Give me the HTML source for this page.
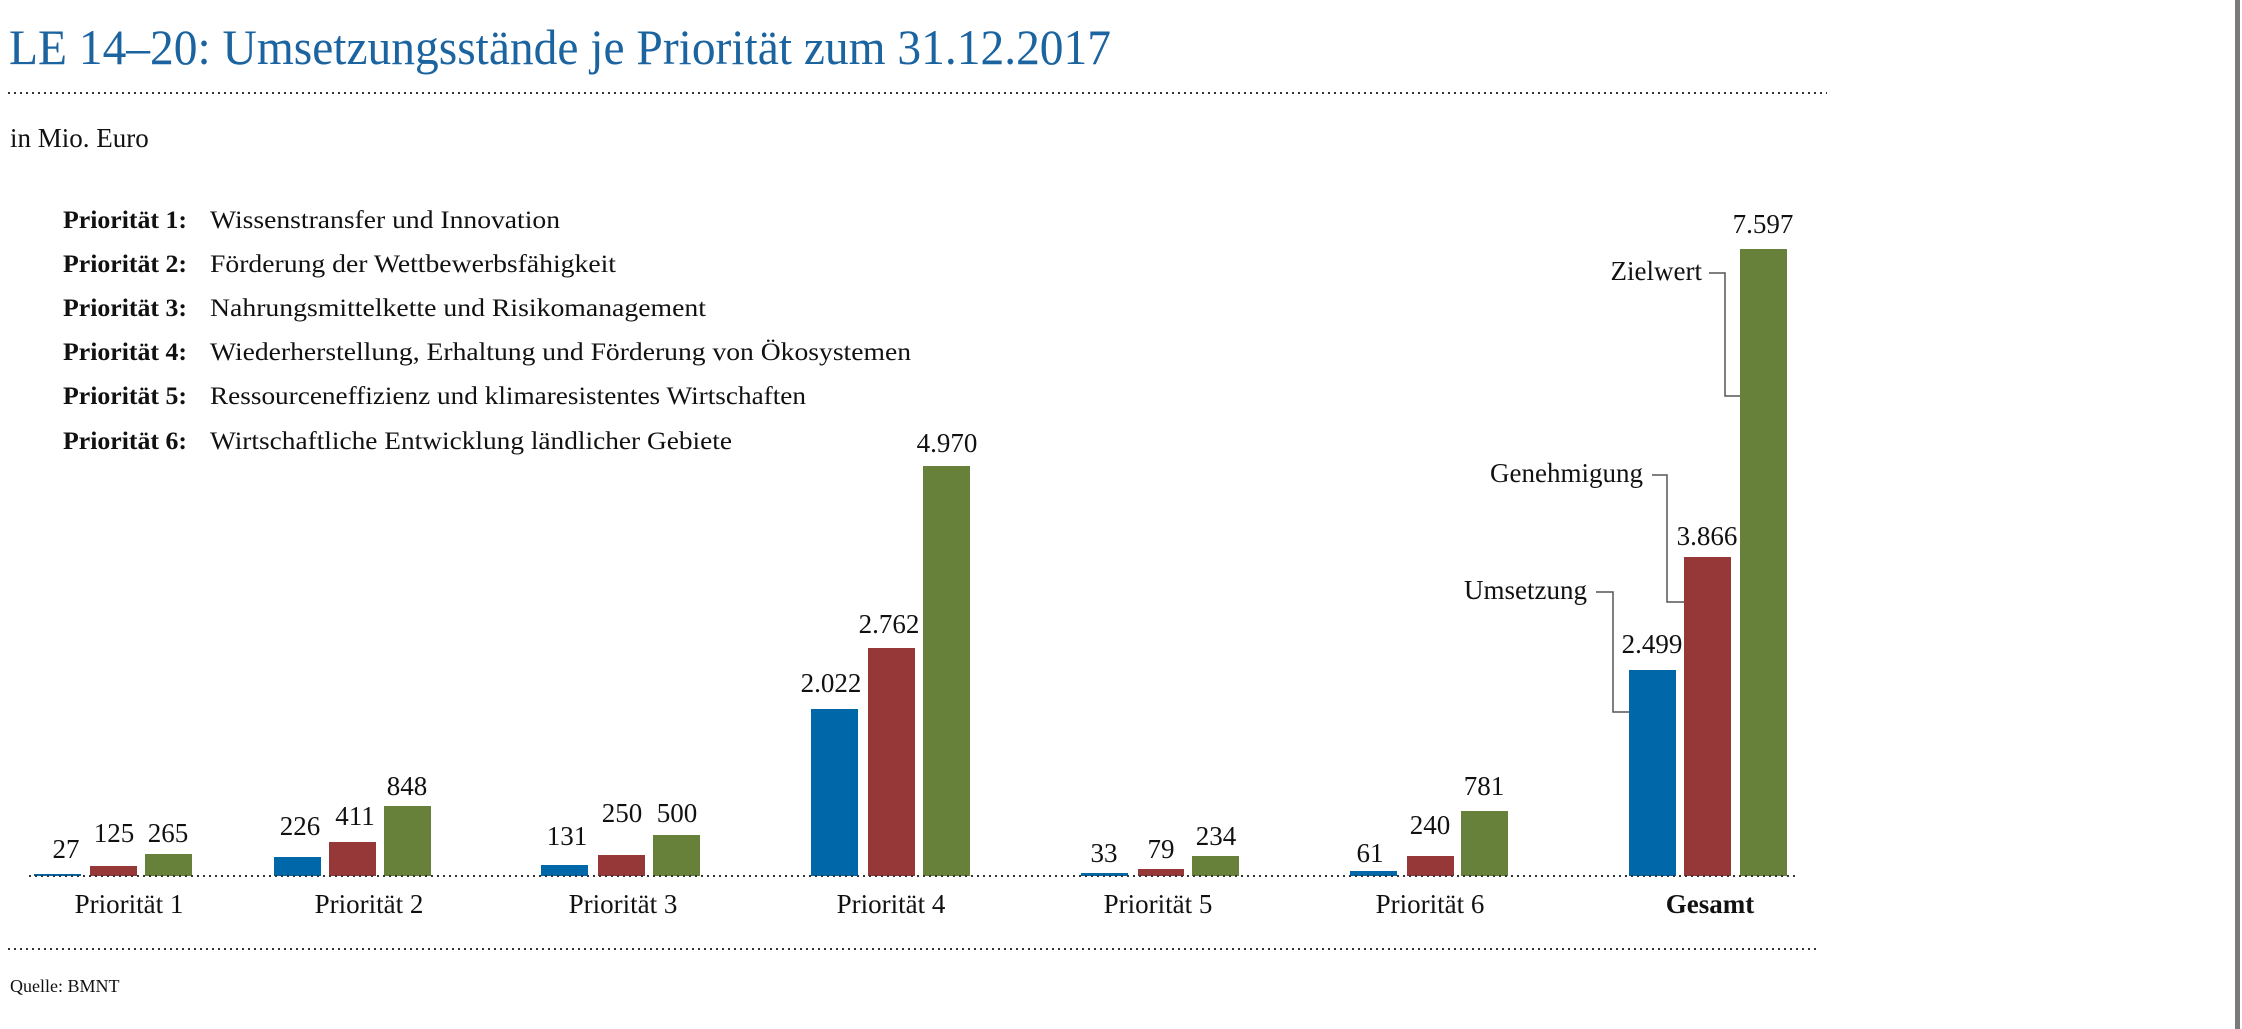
<!DOCTYPE html>
<html><head><meta charset="utf-8"><style>html,body{margin:0;padding:0;background:#fff;}svg{display:block}</style></head>
<body>
<svg width="2242" height="1029" viewBox="0 0 2242 1029" xmlns="http://www.w3.org/2000/svg" font-family="'Liberation Serif', serif">
<rect width="2242" height="1029" fill="#fff"/>
<rect x="2235" y="0" width="5" height="1029" fill="#7a7a7a"/>
<text x="9" y="64" font-size="50" fill="#1b64a0" textLength="1102" lengthAdjust="spacingAndGlyphs">LE 14–20: Umsetzungsstände je Priorität zum 31.12.2017</text>
<line x1="8" y1="93" x2="1827" y2="93" stroke="#333" stroke-width="2" stroke-dasharray="2 4"/>
<text x="10" y="147" font-size="27" fill="#111">in Mio. Euro</text>
<g font-size="25" fill="#111">
<text x="63" y="228" font-weight="bold" textLength="124" lengthAdjust="spacingAndGlyphs">Priorität 1:</text>
<text x="63" y="272" font-weight="bold" textLength="124" lengthAdjust="spacingAndGlyphs">Priorität 2:</text>
<text x="63" y="316" font-weight="bold" textLength="124" lengthAdjust="spacingAndGlyphs">Priorität 3:</text>
<text x="63" y="360" font-weight="bold" textLength="124" lengthAdjust="spacingAndGlyphs">Priorität 4:</text>
<text x="63" y="404" font-weight="bold" textLength="124" lengthAdjust="spacingAndGlyphs">Priorität 5:</text>
<text x="63" y="449" font-weight="bold" textLength="124" lengthAdjust="spacingAndGlyphs">Priorität 6:</text>
<text x="210" y="228" textLength="350" lengthAdjust="spacingAndGlyphs">Wissenstransfer und Innovation</text>
<text x="210" y="272" textLength="406" lengthAdjust="spacingAndGlyphs">Förderung der Wettbewerbsfähigkeit</text>
<text x="210" y="316" textLength="496" lengthAdjust="spacingAndGlyphs">Nahrungsmittelkette und Risikomanagement</text>
<text x="210" y="360" textLength="701" lengthAdjust="spacingAndGlyphs">Wiederherstellung, Erhaltung und Förderung von Ökosystemen</text>
<text x="210" y="404" textLength="596" lengthAdjust="spacingAndGlyphs">Ressourceneffizienz und klimaresistentes Wirtschaften</text>
<text x="210" y="449" textLength="522" lengthAdjust="spacingAndGlyphs">Wirtschaftliche Entwicklung ländlicher Gebiete</text>
</g>
<!-- bars: axis y=876, scale 0.0825 -->
<g>
<rect x="34" y="874" width="47" height="2" fill="#0067a9"/>
<rect x="90" y="866" width="47" height="10" fill="#963838"/>
<rect x="145" y="854" width="47" height="22" fill="#67803a"/>
<rect x="274" y="857" width="47" height="19" fill="#0067a9"/>
<rect x="329" y="842" width="47" height="34" fill="#963838"/>
<rect x="384" y="806" width="47" height="70" fill="#67803a"/>
<rect x="541" y="865" width="47" height="11" fill="#0067a9"/>
<rect x="598" y="855" width="47" height="21" fill="#963838"/>
<rect x="653" y="835" width="47" height="41" fill="#67803a"/>
<rect x="811" y="709" width="47" height="167" fill="#0067a9"/>
<rect x="868" y="648" width="47" height="228" fill="#963838"/>
<rect x="923" y="466" width="47" height="410" fill="#67803a"/>
<rect x="1081" y="873" width="47" height="3" fill="#0067a9"/>
<rect x="1138" y="869" width="46" height="7" fill="#963838"/>
<rect x="1192" y="856" width="47" height="20" fill="#67803a"/>
<rect x="1350" y="871" width="47" height="5" fill="#0067a9"/>
<rect x="1407" y="856" width="47" height="20" fill="#963838"/>
<rect x="1461" y="811" width="47" height="65" fill="#67803a"/>
<rect x="1629" y="670" width="47" height="206" fill="#0067a9"/>
<rect x="1684" y="557" width="47" height="319" fill="#963838"/>
<rect x="1740" y="249" width="47" height="627" fill="#67803a"/>
</g>
<line x1="29" y1="876" x2="1799" y2="876" stroke="#333" stroke-width="2" stroke-dasharray="2 4"/>
<g font-size="27" fill="#111" text-anchor="middle">
<text x="66" y="858">27</text><text x="114" y="842">125</text><text x="168" y="842">265</text>
<text x="300" y="835">226</text><text x="355" y="825">411</text><text x="407" y="795">848</text>
<text x="567" y="845">131</text><text x="622" y="822">250</text><text x="677" y="822">500</text>
<text x="831" y="692">2.022</text><text x="889" y="633">2.762</text><text x="947" y="452">4.970</text>
<text x="1104" y="862">33</text><text x="1161" y="858">79</text><text x="1216" y="845">234</text>
<text x="1370" y="862">61</text><text x="1430" y="834">240</text><text x="1484" y="795">781</text>
<text x="1652" y="653">2.499</text><text x="1707" y="545">3.866</text><text x="1763" y="233">7.597</text>
<text x="129" y="913">Priorität 1</text><text x="369" y="913">Priorität 2</text><text x="623" y="913">Priorität 3</text>
<text x="891" y="913">Priorität 4</text><text x="1158" y="913">Priorität 5</text><text x="1430" y="913">Priorität 6</text>
<text x="1710" y="913" font-weight="bold">Gesamt</text>
</g>
<g font-size="27" fill="#111" text-anchor="end">
<text x="1702" y="280">Zielwert</text>
<text x="1643" y="482">Genehmigung</text>
<text x="1587" y="599">Umsetzung</text>
</g>
<g fill="none" stroke="#555" stroke-width="1.5">
<polyline points="1709,273 1725,273 1725,396 1740,396"/>
<polyline points="1652,475 1667,475 1667,602 1684,602"/>
<polyline points="1596,592 1613,592 1613,712 1629,712"/>
</g>
<line x1="8" y1="949" x2="1819" y2="949" stroke="#333" stroke-width="2" stroke-dasharray="2 4"/>
<text x="10" y="992" font-size="18" fill="#111">Quelle: BMNT</text>
</svg>
</body></html>
